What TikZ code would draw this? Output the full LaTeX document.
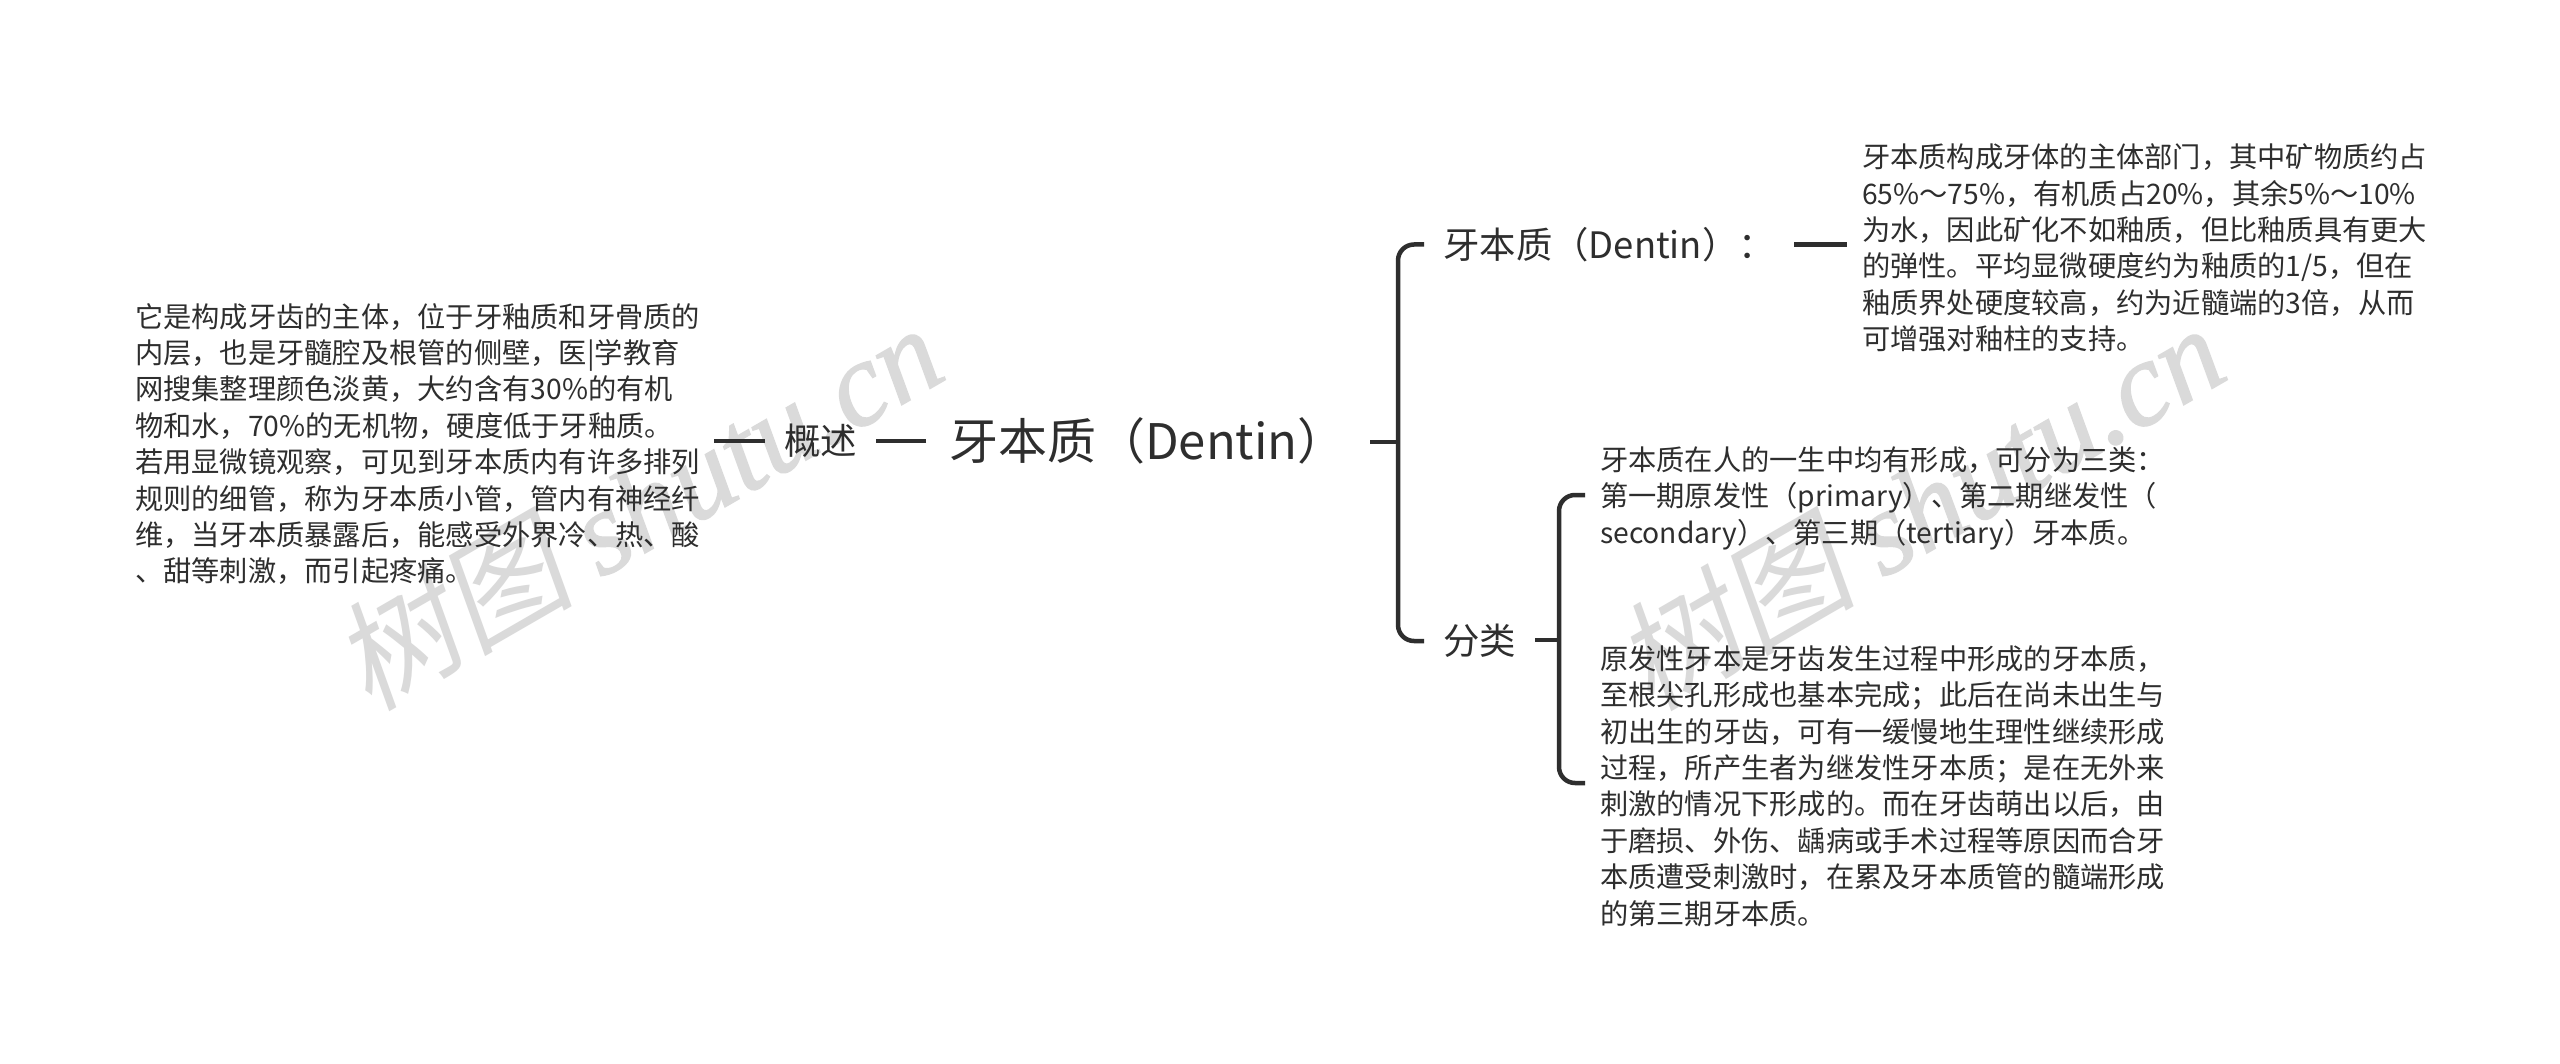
\documentclass[tikz,border=0pt]{standalone}
\usepackage{fontspec}
\setmainfont{Noto Sans CJK SC}
\newfontfamily\wmcjk[FakeSlant=0.18]{Noto Sans CJK SC}
\newfontfamily\wmlat[FakeBold=1.2]{Liberation Serif Italic}
\definecolor{ink}{HTML}{2E2E2E}
\definecolor{wm}{HTML}{DADADA}
\tikzset{
  conn/.style={draw=ink,line width=4.5pt},
  body/.style={font=\fontsize{28.25}{36.4}\selectfont,text=ink,align=left,anchor=west,inner ysep=0pt},
  branch/.style={font=\fontsize{36.4}{44}\selectfont,text=ink,anchor=west,inner ysep=0pt},
  mainnode/.style={font=\fontsize{49}{56}\selectfont,text=ink,anchor=west,inner ysep=0pt},
  watermark/.style={font=\fontsize{120}{130}\selectfont,text=wm,rotate=30,inner sep=0pt}
}
\begin{document}
\begin{tikzpicture}[x=1pt,y=-1pt]
\useasboundingbox (0,0) rectangle (2560,1064);
\fill[white] (0,0) rectangle (2560,1064);
\node[watermark] (wa) at (637,505) {{\wmcjk 树图} {\wmlat shutu.cn}};
\node[watermark] (wb) at (1919,505) {{\wmcjk 树图} {\wmlat shutu.cn}};

\node[mainnode,inner xsep=23pt] (root) at (926,441) {牙本质（Dentin）};
\node[branch,inner xsep=19pt] (gs) at (765,441) {概述};
\node[body,inner xsep=14pt] (left) at (121,444) {它是构成牙齿的主体，位于牙釉质和牙骨质的\\内层，也是牙髓腔及根管的侧壁，医|学教育\\网搜集整理颜色淡黄，大约含有30\%的有机\\物和水，70\%的无机物，硬度低于牙釉质。\\若用显微镜观察，可见到牙本质内有许多排列\\规则的细管，称为牙本质小管，管内有神经纤\\维，当牙本质暴露后，能感受外界冷、热、酸\\、甜等刺激，而引起疼痛。};
\node[branch,inner xsep=19pt] (dent) at (1424,244.5) {牙本质（Dentin）：};
\node[branch,inner xsep=19pt] (fen) at (1424,641) {分类};
\node[body,inner xsep=15pt] (rt) at (1847,248) {牙本质构成牙体的主体部门，其中矿物质约占\\65\%～75\%，有机质占20\%，其余5\%～10\%\\为水，因此矿化不如釉质，但比釉质具有更大\\的弹性。平均显微硬度约为釉质的1/5，但在\\釉质界处硬度较高，约为近髓端的3倍，从而\\可增强对釉柱的支持。};
\node[body,inner xsep=15pt] (s1) at (1585,498) {牙本质在人的一生中均有形成，可分为三类：\\第一期原发性（primary）、第二期继发性（\\secondary）、第三期（tertiary）牙本质。};
\node[body,inner xsep=15pt] (s2) at (1585,786) {原发性牙本是牙齿发生过程中形成的牙本质，\\至根尖孔形成也基本完成；此后在尚未出生与\\初出生的牙齿，可有一缓慢地生理性继续形成\\过程，所产生者为继发性牙本质；是在无外来\\刺激的情况下形成的。而在牙齿萌出以后，由\\于磨损、外伤、龋病或手术过程等原因而合牙\\本质遭受刺激时，在累及牙本质管的髓端形成\\的第三期牙本质。};

\coordinate (t1) at (1398,442);
\coordinate (t2) at (1559,640);
\draw[conn] (root.west) -- (gs.east);
\draw[conn] (gs.west) -- (gs.west -| left.east);
\draw[conn] (root.east |- t1) -- (t1);
\draw[conn,rounded corners=16pt] (dent.west) -| (t1) |- (fen.west);
\draw[conn] (fen.east |- t2) -- (t2);
\draw[conn,rounded corners=16pt] ([yshift=3pt]s1.west) -| (t2) |- ([yshift=3pt]s2.west);
\draw[conn] (dent.east) -- (dent.east -| rt.west);
\end{tikzpicture}
\end{document}
